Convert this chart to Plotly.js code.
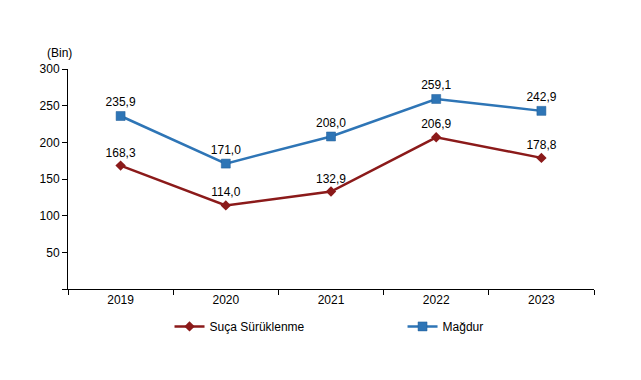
<!DOCTYPE html>
<html><head><meta charset="utf-8">
<script src="https://cdn.plot.ly/plotly-3.0.1.min.js"></script>
<style>html,body{margin:0;padding:0;background:#fff}#c{width:641px;height:380px}</style>
</head><body><div id="c"></div>
<script>
const years = ['2019','2020','2021','2022','2023'];
const sucaSuruklenme = [168.3, 114.0, 132.9, 206.9, 178.8];
const magdur = [235.9, 171.0, 208.0, 259.1, 242.9];
const yTicks = [0, 50, 100, 150, 200, 250, 300];
const yTickText = ['', '50', '100', '150', '200', '250', '300'];
const fmt = v => v.toFixed(1).replace('.', ',');

const font = {family: 'Liberation Sans, Arial, sans-serif', size: 11, color: '#000'};
const font12 = {family: font.family, size: 12, color: '#000'};
const traces = [
  {x: years, y: sucaSuruklenme, name: 'Suça Sürüklenme', type: 'scatter', mode: 'lines+markers+text',
   line: {color: '#8B1A1A', width: 2.5}, marker: {symbol: 'diamond', size: 8, color: '#8B1A1A'},
   text: sucaSuruklenme.map(fmt), textposition: 'top center', textfont: font12, cliponaxis: false,
   legend: 'legend'},
  {x: years, y: magdur, name: 'Mağdur', type: 'scatter', mode: 'lines+markers+text',
   line: {color: '#2E75B6', width: 2.5}, marker: {symbol: 'square', size: 9, color: '#2E75B6', line: {color: '#1F5C99', width: 0.5}},
   text: magdur.map(fmt), textposition: 'top center', textfont: font12, cliponaxis: false,
   legend: 'legend2'}
];
const legBase = {orientation: 'h', xanchor: 'left', y: -0.17, yanchor: 'middle', font: font12, itemwidth: 30,
                 bgcolor: 'rgba(0,0,0,0)'};
const layout = {
  width: 641, height: 380,
  margin: {l: 68, r: 47, t: 69, b: 91},
  paper_bgcolor: '#fff', plot_bgcolor: '#fff',
  font: font,
  showlegend: true,
  legend: Object.assign({}, legBase, {x: 0.193}),
  legend2: Object.assign({}, legBase, {x: 0.636}),
  xaxis: {type: 'category', range: [-0.5, 4.5], showline: true, linecolor: '#000', linewidth: 1,
          ticks: 'outside', tickson: 'boundaries', ticklen: 5, tickcolor: '#000',
          showgrid: false, zeroline: false, tickfont: font12, fixedrange: true},
  yaxis: {range: [0, 300], tickvals: yTicks, ticktext: yTickText, showline: true, linecolor: '#000', linewidth: 1,
          ticks: 'outside', ticklen: 5, tickcolor: '#000', showgrid: false, zeroline: false,
          tickfont: font12, fixedrange: true},
  annotations: [{text: '(Bin)', xref: 'paper', yref: 'paper', x: 0, y: 1, xanchor: 'right', yanchor: 'bottom',
                 xshift: 6, yshift: 7, showarrow: false, font: font12}]
};
Plotly.newPlot('c', traces, layout, {displayModeBar: false, staticPlot: true});
</script></body></html>
